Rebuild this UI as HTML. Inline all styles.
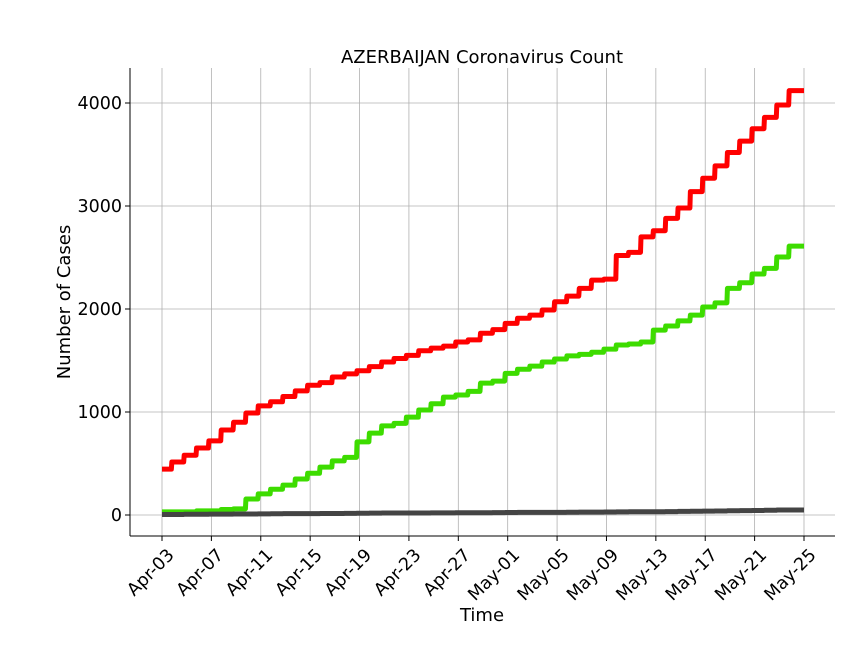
<!DOCTYPE html>
<html><head><meta charset="utf-8"><style>
body{margin:0;background:#fff}
svg{font-family:"DejaVu Sans","Liberation Sans",sans-serif}
</style></head><body>
<svg id="chart" width="864" height="648" xmlns="http://www.w3.org/2000/svg">
<text x="482" y="63" text-anchor="middle" font-size="18">AZERBAIJAN Coronavirus Count</text>
<text x="482" y="621" text-anchor="middle" font-size="18">Time</text>
<text transform="translate(70,302) rotate(-90)" text-anchor="middle" font-size="18">Number of Cases</text>
<g id="grid"></g><g id="series"></g><g id="axes"></g>
</svg>
<script>
const yTicks=[0,1000,2000,3000,4000];
const xTickLabels=["Apr-03","Apr-07","Apr-11","Apr-15","Apr-19","Apr-23","Apr-27","May-01","May-05","May-09","May-13","May-17","May-21","May-25"];
const confirmed=[445,515,580,650,720,825,900,990,1060,1100,1150,1205,1260,1285,1340,1370,1400,1440,1485,1520,1550,1595,1620,1640,1680,1700,1765,1800,1860,1910,1940,1990,2070,2125,2200,2280,2290,2520,2550,2700,2760,2880,2980,3140,3270,3390,3520,3630,3750,3860,3980,4120,4120];
const recovered=[30,30,30,40,40,53,60,155,205,250,290,350,405,465,525,560,710,795,865,890,950,1020,1080,1145,1165,1200,1280,1300,1375,1415,1445,1485,1515,1545,1560,1580,1610,1650,1660,1680,1795,1835,1885,1940,2020,2060,2200,2255,2340,2395,2505,2610,2610];
const deaths=[5,5,7,7,8,9,10,10,11,12,13,13,13,14,15,16,17,18,19,19,20,20,21,21,22,22,22,23,24,25,25,26,26,27,28,28,29,30,31,32,32,33,35,36,38,39,41,42,44,46,48,49,49];
const colors=["#ff0000","#3ddc00","#444444"];
const names=["confirmed-line","recovered-line","deaths-line"];
const L=130,R=835,T=68,B=536;
const x0=162,pxDay=642/52;
const X=i=>x0+i*pxDay;
const Y=v=>515-v*0.103;
const ns="http://www.w3.org/2000/svg";
function mk(t,a,p){const e=document.createElementNS(ns,t);for(const k in a)e.setAttribute(k,a[k]);p.appendChild(e);return e;}
const grid=document.getElementById('grid'),axes=document.getElementById('axes'),ser=document.getElementById('series');
yTicks.forEach(v=>{
 const g=mk('line',{x1:L,x2:R,y1:Y(v),y2:Y(v),stroke:"#b0b0b0","stroke-width":0.8},grid);
 
 
 mk('line',{x1:L-5,x2:L,y1:Y(v),y2:Y(v),stroke:"#000"},axes);
 const t=mk('text',{x:L-8,y:Y(v)+6,"text-anchor":"end","font-size":17.5},axes);t.textContent=v;
 
 
});
xTickLabels.forEach((s,i)=>{
 const x=X(i*4);
 const g=mk('line',{x1:x,x2:x,y1:T,y2:B,stroke:"#b0b0b0","stroke-width":0.8},grid);
 
 
 mk('line',{x1:x,x2:x,y1:B,y2:B+5,stroke:"#000"},axes);
 const t=mk('text',{transform:`translate(${x+13},${B+20}) rotate(-45)`,"text-anchor":"end","font-size":17.5},axes);t.textContent=s;
 
 
});
const ax1=mk('line',{x1:L,x2:L,y1:T,y2:B,stroke:"#000"},axes);


const ax2=mk('line',{x1:L,x2:R,y1:B,y2:B,stroke:"#000"},axes);


[confirmed,recovered,deaths].forEach((arr,k)=>{
 let d=`M${X(0)},${Y(arr[0])}`;
 for(let i=1;i<arr.length;i++){d+=` L${X(i)-3},${Y(arr[i-1])} L${X(i)-2.5},${Y(arr[i])} L${X(i)},${Y(arr[i])}`;}
 const p=mk('path',{d:d,fill:"none",stroke:colors[k],"stroke-width":5,"stroke-linejoin":"round"},ser);
 
 
});
</script>
</body></html>
